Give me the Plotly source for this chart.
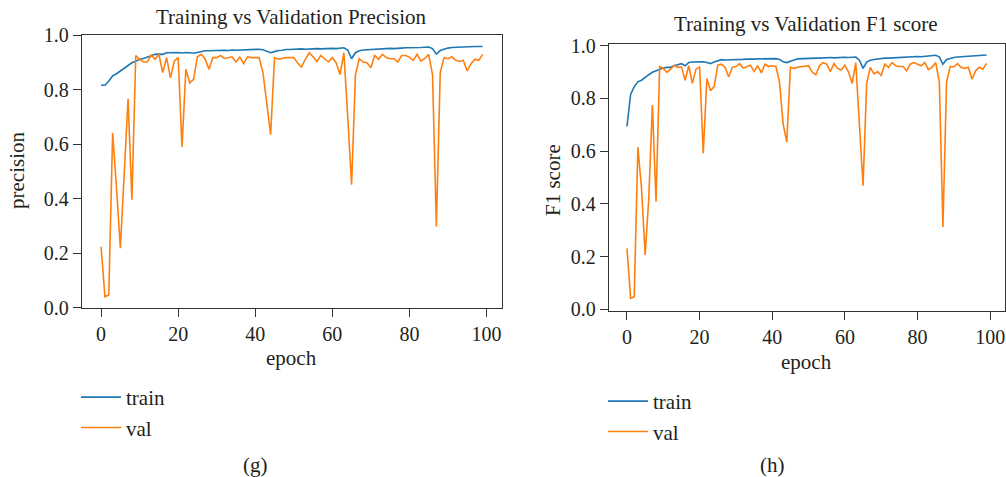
import plotly.graph_objects as go

epochs = list(range(100))

prec_train = [0.816, 0.816, 0.831, 0.850, 0.858, 0.868, 0.876, 0.886, 0.898, 0.904,
              0.911, 0.914, 0.919, 0.922, 0.929, 0.930, 0.929, 0.935, 0.936, 0.935,
              0.936, 0.934, 0.936, 0.935, 0.933, 0.936, 0.939, 0.942, 0.942, 0.943,
              0.942, 0.944, 0.944, 0.943, 0.945, 0.944, 0.945, 0.946, 0.945, 0.946,
              0.947, 0.948, 0.946, 0.940, 0.935, 0.939, 0.943, 0.944, 0.947, 0.947,
              0.948, 0.948, 0.949, 0.948, 0.949, 0.950, 0.950, 0.949, 0.950, 0.951,
              0.951, 0.950, 0.952, 0.953, 0.945, 0.913, 0.935, 0.942, 0.945, 0.946,
              0.947, 0.948, 0.949, 0.948, 0.950, 0.951, 0.950, 0.952, 0.952, 0.953,
              0.953, 0.952, 0.954, 0.954, 0.955, 0.956, 0.950, 0.930, 0.943, 0.948,
              0.952, 0.954, 0.955, 0.955, 0.956, 0.957, 0.957, 0.958, 0.958, 0.958]

prec_val = [0.224, 0.040, 0.047, 0.641, 0.440, 0.218, 0.490, 0.766, 0.396, 0.925,
            0.911, 0.901, 0.901, 0.926, 0.911, 0.929, 0.862, 0.917, 0.843, 0.904,
            0.917, 0.589, 0.874, 0.825, 0.837, 0.920, 0.929, 0.911, 0.874, 0.917,
            0.917, 0.925, 0.914, 0.917, 0.920, 0.901, 0.919, 0.895, 0.920, 0.917,
            0.917, 0.917, 0.862, 0.751, 0.635, 0.917, 0.911, 0.914, 0.917, 0.917,
            0.917, 0.897, 0.882, 0.911, 0.935, 0.920, 0.902, 0.925, 0.913, 0.901,
            0.917, 0.898, 0.855, 0.935, 0.700, 0.451, 0.855, 0.913, 0.901, 0.898,
            0.880, 0.925, 0.911, 0.929, 0.917, 0.913, 0.913, 0.901, 0.925, 0.925,
            0.919, 0.907, 0.929, 0.904, 0.914, 0.929, 0.855, 0.298, 0.862, 0.917,
            0.913, 0.920, 0.907, 0.904, 0.907, 0.868, 0.895, 0.911, 0.907, 0.929]

f1_train = [0.694, 0.815, 0.845, 0.863, 0.869, 0.881, 0.890, 0.899, 0.905, 0.911,
            0.915, 0.918, 0.918, 0.924, 0.927, 0.932, 0.924, 0.936, 0.938, 0.938,
            0.938, 0.939, 0.936, 0.932, 0.938, 0.944, 0.947, 0.946, 0.946, 0.947,
            0.947, 0.948, 0.948, 0.949, 0.948, 0.949, 0.950, 0.950, 0.951, 0.951,
            0.952, 0.951, 0.948, 0.939, 0.936, 0.942, 0.946, 0.950, 0.951, 0.952,
            0.952, 0.953, 0.953, 0.953, 0.954, 0.954, 0.955, 0.954, 0.955, 0.956,
            0.956, 0.955, 0.957, 0.957, 0.945, 0.914, 0.938, 0.945, 0.948, 0.950,
            0.951, 0.953, 0.953, 0.954, 0.955, 0.955, 0.956, 0.956, 0.957, 0.958,
            0.959, 0.958, 0.959, 0.960, 0.961, 0.964, 0.958, 0.930, 0.948, 0.952,
            0.955, 0.957, 0.958, 0.959, 0.960, 0.961, 0.962, 0.963, 0.964, 0.965]

f1_val = [0.231, 0.042, 0.048, 0.615, 0.460, 0.206, 0.420, 0.775, 0.408, 0.921,
          0.914, 0.899, 0.911, 0.926, 0.918, 0.920, 0.869, 0.924, 0.857, 0.911,
          0.920, 0.592, 0.875, 0.829, 0.845, 0.926, 0.930, 0.918, 0.881, 0.918,
          0.921, 0.932, 0.915, 0.920, 0.926, 0.902, 0.924, 0.897, 0.930, 0.921,
          0.924, 0.921, 0.863, 0.702, 0.634, 0.918, 0.914, 0.918, 0.920, 0.920,
          0.924, 0.900, 0.890, 0.924, 0.936, 0.930, 0.902, 0.932, 0.914, 0.908,
          0.926, 0.900, 0.857, 0.936, 0.700, 0.469, 0.857, 0.918, 0.893, 0.902,
          0.887, 0.930, 0.918, 0.936, 0.924, 0.921, 0.921, 0.905, 0.930, 0.936,
          0.930, 0.924, 0.936, 0.909, 0.918, 0.936, 0.863, 0.312, 0.863, 0.921,
          0.920, 0.932, 0.918, 0.914, 0.918, 0.873, 0.905, 0.918, 0.911, 0.933]

x_ticks = [0, 20, 40, 60, 80, 100]
y_ticks = [0.0, 0.2, 0.4, 0.6, 0.8, 1.0]
y_tick_text = ["0.0", "0.2", "0.4", "0.6", "0.8", "1.0"]

BLUE = "#1f77b4"
ORANGE = "#ff7f0e"
FONT = "Liberation Serif"
TXT = "#231f20"
W, H = 1006, 477

fig = go.Figure()
fig.add_trace(go.Scatter(x=epochs, y=prec_train, mode="lines", name="train",
                         line=dict(color=BLUE, width=1.6), xaxis="x", yaxis="y",
                         legend="legend"))
fig.add_trace(go.Scatter(x=epochs, y=prec_val, mode="lines", name="val",
                         line=dict(color=ORANGE, width=1.6), xaxis="x", yaxis="y",
                         legend="legend"))
fig.add_trace(go.Scatter(x=epochs, y=f1_train, mode="lines", name="train",
                         line=dict(color=BLUE, width=1.6), xaxis="x2", yaxis="y2",
                         legend="legend2"))
fig.add_trace(go.Scatter(x=epochs, y=f1_val, mode="lines", name="val",
                         line=dict(color=ORANGE, width=1.6), xaxis="x2", yaxis="y2",
                         legend="legend2"))

def px_x(p):
    return p / W

def px_y(p):
    return 1 - p / H

axis_common = dict(showgrid=False, zeroline=False, showline=True, mirror=True,
                   linecolor="#333333", linewidth=1.3, ticks="outside", ticklen=8,
                   tickwidth=1.3, tickcolor="#333333", automargin=False,
                   tickfont=dict(family=FONT, size=20, color=TXT))

fig.update_layout(
    width=W, height=H,
    margin=dict(l=0, r=0, t=0, b=0),
    paper_bgcolor="white", plot_bgcolor="white",
    font=dict(family=FONT, size=20, color=TXT),
    xaxis=dict(domain=[px_x(82), px_x(501.7)], range=[-4.95, 103.95],
               tickvals=x_ticks, anchor="y", **axis_common),
    yaxis=dict(domain=[px_y(307.7), px_y(35)], range=[0, 1.0],
               tickvals=y_ticks, ticktext=y_tick_text, anchor="x", **axis_common),
    xaxis2=dict(domain=[px_x(609), px_x(1004.5)], range=[-4.95, 103.95],
                tickvals=x_ticks, anchor="y2", **axis_common),
    yaxis2=dict(domain=[px_y(311), px_y(44)], range=[-0.0065, 1.0065],
                tickvals=y_ticks, ticktext=y_tick_text, anchor="x2", **axis_common),
    legend=dict(x=px_x(76), y=px_y(377), xanchor="left", yanchor="top",
                bgcolor="rgba(0,0,0,0)", itemwidth=40,
                font=dict(family=FONT, size=21, color=TXT)),
    legend2=dict(x=px_x(603), y=px_y(381), xanchor="left", yanchor="top",
                 bgcolor="rgba(0,0,0,0)", itemwidth=40,
                 font=dict(family=FONT, size=21, color=TXT)),
)

def note(text, x, y, size=21, angle=0):
    fig.add_annotation(text=text, x=px_x(x), y=px_y(y), xref="paper", yref="paper",
                       showarrow=False, xanchor="center", yanchor="middle",
                       textangle=angle, font=dict(family=FONT, size=size, color=TXT))

note("Training vs Validation Precision", 291, 17)
note("Training vs Validation F1 score", 806, 24)
note("epoch", 291, 358)
note("epoch", 806, 362)
note("precision", 17, 171, angle=-90)
note("F1 score", 553, 180, angle=-90)
note("(g)", 255, 465)
note("(h)", 772, 465)

fig.write_html("out.html", config={"displayModeBar": False},
               post_script="document.body.style.margin='0';")
